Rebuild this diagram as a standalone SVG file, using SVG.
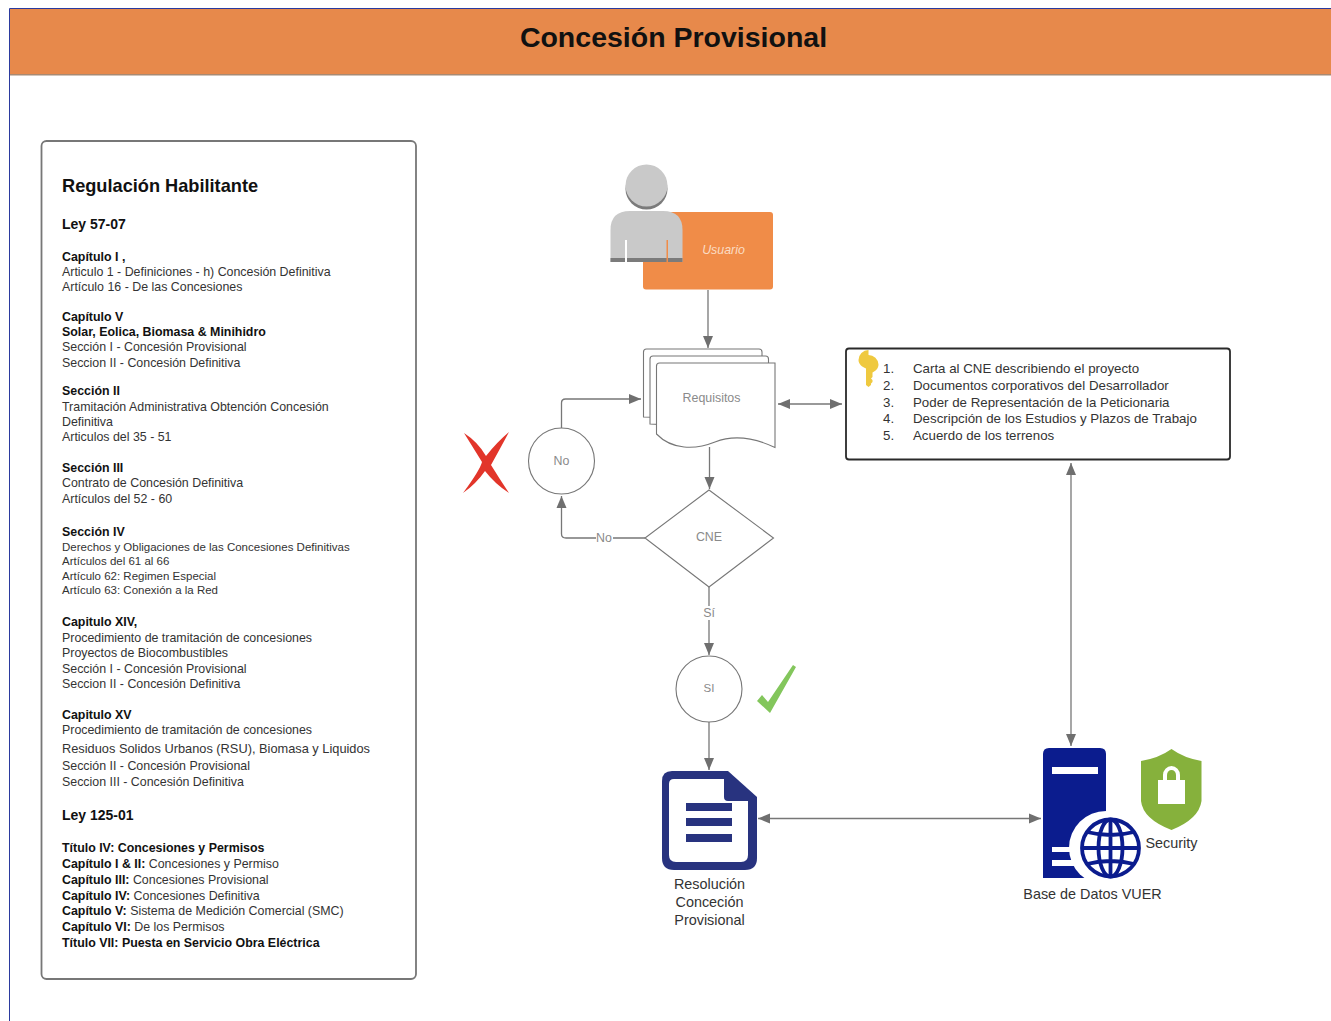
<svg xmlns="http://www.w3.org/2000/svg" width="1331" height="1021" viewBox="0 0 1331 1021">
<style>
text{font-family:"Liberation Sans",Arial,sans-serif}
.r{font-size:12.4px;fill:#333}
.b{font-size:12.4px;font-weight:700;fill:#111}
.h{font-size:14px;font-weight:700;fill:#111}
.l{font-size:13.4px;fill:#222}
.g{font-size:12.4px;fill:#8a8a8a;text-anchor:middle}
.d{font-size:14.4px;fill:#333;text-anchor:middle}
.ln{fill:none;stroke:#777;stroke-width:1.3}
.n{fill:#fff;stroke:#777;stroke-width:1.1}
</style>
<defs>
<marker id="a" markerWidth="13" markerHeight="12" refX="12" refY="6" orient="auto-start-reverse" markerUnits="userSpaceOnUse"><path d="M0 1L12 6L0 11Z" fill="#6f6f6f"/></marker>
</defs>
<rect width="1331" height="1021" fill="#fff"/>
<path d="M9.5 1021V8.5H1331" fill="none" stroke="#2b3a9e" stroke-width="1"/>
<g id="header"><rect x="10" y="9" width="1321" height="66" fill="#e7894b"/><rect x="10" y="74" width="1321" height="1.5" fill="#a98a72"/>
<text x="673.500" y="47" text-anchor="middle" font-size="28.500" font-weight="700" fill="#111">Concesión Provisional</text></g>

<g id="regulacion"><rect x="41.500" y="141" width="374.500" height="838" rx="5" fill="#fff" stroke="#777" stroke-width="1.800"/>
<text x="62" y="192" font-size="18.200" font-weight="700" fill="#111">Regulación Habilitante</text>
<text class="h" x="62" y="229">Ley 57-07</text>
<text class="b" x="62" y="260.500">Capítulo I ,</text>
<text class="r" x="62" y="275.500">Articulo 1 - Definiciones -  h) Concesión Definitiva</text>
<text class="r" x="62" y="291">Artículo 16 - De las Concesiones</text>
<text class="b" x="62" y="321">Capítulo V</text>
<text class="b" x="62" y="336">Solar, Eolica, Biomasa &amp; Minihidro</text>
<text class="r" x="62" y="351">Sección I - Concesión Provisional</text>
<text class="r" x="62" y="366.500">Seccion II - Concesión Definitiva</text>
<text class="b" x="62" y="395">Sección II</text>
<text class="r" x="62" y="410.500">Tramitación Administrativa  Obtención Concesión</text>
<text class="r" x="62" y="426">Definitiva</text>
<text class="r" x="62" y="441">Articulos del 35 - 51</text>
<text class="b" x="62" y="472">Sección III</text>
<text class="r" x="62" y="487">Contrato de Concesión Definitiva</text>
<text class="r" x="62" y="502.500">Artículos del 52 - 60</text>
<text class="b" x="62" y="536">Sección IV</text>
<text class="r" x="62" y="551" font-size="11.500" style="font-size:11.500px">Derechos y Obligaciones de las Concesiones Definitivas</text>
<text class="r" x="62" y="565" style="font-size:11.500px">Artículos del 61 al 66</text>
<text class="r" x="62" y="579.500" style="font-size:11.500px">Artículo 62: Regimen Especial</text>
<text class="r" x="62" y="594" style="font-size:11.500px">Artículo 63: Conexión a la Red</text>
<text class="b" x="62" y="626">Capitulo XIV,</text>
<text class="r" x="62" y="641.500">Procedimiento de tramitación de concesiones</text>
<text class="r" x="62" y="657">Proyectos de Biocombustibles</text>
<text class="r" x="62" y="672.500">Sección I - Concesión Provisional</text>
<text class="r" x="62" y="688">Seccion II - Concesión Definitiva</text>
<text class="b" x="62" y="718.500">Capitulo XV</text>
<text class="r" x="62" y="734">Procedimiento de tramitación de concesiones</text>
<text class="r" x="62" y="752.500" style="font-size:12.800px">Residuos Solidos Urbanos (RSU), Biomasa y Liquidos</text>
<text class="r" x="62" y="770">Sección II - Concesión Provisional</text>
<text class="r" x="62" y="785.500">Seccion III - Concesión Definitiva</text>
<text class="h" x="62" y="820">Ley 125-01</text>
<text class="b" x="62" y="852">Título IV: Concesiones y Permisos</text>
<text class="r" x="62" y="868"><tspan class="b">Capítulo I &amp; II:</tspan> Concesiones y Permiso</text>
<text class="r" x="62" y="884"><tspan class="b">Capítulo III:</tspan> Concesiones Provisional</text>
<text class="r" x="62" y="899.500"><tspan class="b">Capítulo IV:</tspan> Concesiones Definitiva</text>
<text class="r" x="62" y="915"><tspan class="b">Capítulo  V:</tspan> Sistema de Medición Comercial (SMC)</text>
<text class="r" x="62" y="931"><tspan class="b">Capítulo VI:</tspan> De los Permisos</text>
<text class="b" x="62" y="946.500">Título VII: Puesta en Servicio Obra Eléctrica</text></g>

<g id="connectors">
<path class="ln" d="M708 290V348" marker-end="url(#a)"/>
<path class="ln" d="M709.500 447V489" marker-end="url(#a)"/>
<path class="ln" d="M561.500 429V403Q561.500 399 565.500 399H641" marker-end="url(#a)"/>
<path class="ln" d="M645 538H566Q561.500 538 561.500 534V496" marker-end="url(#a)"/>
<path class="ln" d="M709 587V655" marker-end="url(#a)"/>
<path class="ln" d="M709 722V770" marker-end="url(#a)"/>
<path class="ln" d="M778 404H842" marker-start="url(#a)" marker-end="url(#a)"/>
<path class="ln" d="M1071 463V746" marker-start="url(#a)" marker-end="url(#a)"/>
<path class="ln" d="M758 818.500H1041" marker-start="url(#a)" marker-end="url(#a)"/>
<rect x="596" y="531" width="17" height="14" fill="#fff"/>
<text x="604" y="541.500" font-size="12.400" fill="#8a8a8a" text-anchor="middle">No</text>
<rect x="701" y="606" width="16" height="14" fill="#fff"/>
<text x="709" y="617" font-size="12.400" fill="#8a8a8a" text-anchor="middle">Sí</text>
</g>

<g id="usuario"><rect x="643" y="212" width="130" height="77.500" rx="3" fill="#f08c48"/>
<text x="723.500" y="254" font-size="12.400" font-style="italic" fill="#fbdcc4" text-anchor="middle">Usuario</text></g>
<g id="persona">
<ellipse cx="646.500" cy="189" rx="21" ry="20.500" fill="#7b7b7b"/><ellipse cx="646.500" cy="185.500" rx="21" ry="21" fill="#c9c9c9"/>
<path d="M610.500 262V230Q610.500 211 630 211H663Q682.500 211 682.500 230V262Z" fill="#c9c9c9"/>
<rect x="610.500" y="258" width="72" height="4" fill="#7b7b7b"/>
<rect x="625" y="240" width="2" height="22" fill="#fff"/><rect x="666.500" y="240" width="1.500" height="22" fill="#f08c48"/>
</g>

<g id="requisitos">
<path class="n" d="M643.500 417V352Q643.500 349 646.500 349H759Q762 349 762 352V420Z"/>
<path class="n" d="M650 424V359Q650 356 653 356H765.500Q768.500 356 768.500 359V430Z"/>
<path class="n" d="M656.500 434V366Q656.500 363 659.500 363H775V447.500C755 438 735 434 715 442C695 450 672 450 656.500 434Z"/>
<text class="g" x="711.500" y="401.500">Requisitos</text></g>

<g id="lista"><rect x="846" y="348.500" width="384" height="111" rx="3" fill="#fff" stroke="#2a2a2a" stroke-width="1.800"/>
<path d="M868.500 355a10 10 0 0 1 10 9.500c0 3.500-2.500 6.500-6 8v4.500l-1.500 1.500 1.500 1.500v2l-1.500 1.500v1.500l-2.500 2-2.500-2v-16.500c-4-1.500-7.500-4.500-7.500-8.500a10 10 0 0 1 10-10z" fill="#efc93f"/>
<g font-size="13.300" fill="#333">
<text x="883" y="373">1.</text><text x="913" y="373">Carta al CNE describiendo el proyecto</text>
<text x="883" y="390">2.</text><text x="913" y="390">Documentos corporativos del Desarrollador</text>
<text x="883" y="406.500">3.</text><text x="913" y="406.500">Poder de Representación de la Peticionaria</text>
<text x="883" y="423">4.</text><text x="913" y="423">Descripción de los Estudios y Plazos de Trabajo</text>
<text x="883" y="440">5.</text><text x="913" y="440">Acuerdo de los terrenos</text></g></g>

<g id="no"><circle class="n" cx="561.500" cy="461" r="33"/><text class="g" x="561.500" y="465">No</text></g>
<g id="x-mark"><path d="M463 493Q480 470 482 462L464 433Q478 442 486 456Q497 442 509 432Q501 447 491 465Q499 478 509 493Q495 484 485 471Q476 484 463 493Z" fill="#e2352a"/></g>
<g id="cne"><path class="n" d="M709 490L773.500 538L709 587L645 538Z"/><text class="g" x="709" y="540.500">CNE</text></g>
<g id="si"><circle class="n" cx="709" cy="689" r="33"/><text class="g" x="709" y="692" style="font-size:11.500px">SI</text></g>
<g id="check"><path d="M757 701L762 695L768 702L793 665L796 667L770 713Z" fill="#83c65c"/></g>

<g id="resolucion">
<path d="M672 771H728L757 797V858Q757 870 745 870H674Q662 870 662 858V781Q662 771 672 771Z" fill="#28337f"/>
<path d="M674 779H724V797Q724 801 728 801H748V855Q748 862 741 862H676Q669 862 669 855V784Q669 779 674 779Z" fill="#fff"/>
<rect x="686" y="803" width="46" height="8" fill="#28337f"/><rect x="686" y="818" width="46" height="8" fill="#28337f"/><rect x="686" y="834" width="46" height="8" fill="#28337f"/>
<text class="d" x="709.500" y="889">Resolución</text><text class="d" x="709.500" y="907">Conceción</text><text class="d" x="709.500" y="925">Provisional</text></g>

<g id="base-datos">
<path d="M1049 748H1100Q1106 748 1106 754V878H1043V754Q1043 748 1049 748Z" fill="#0b1c8e"/>
<rect x="1052" y="767" width="46" height="7" fill="#fff"/>
<rect x="1052" y="847" width="30" height="5" fill="#fff"/><rect x="1052" y="860" width="30" height="6" fill="#fff"/>
<circle cx="1106" cy="848" r="37" fill="#fff"/>
<g fill="none" stroke="#0b1c8e" stroke-width="3.800"><circle cx="1110.500" cy="848" r="28.500"/><ellipse cx="1110.500" cy="848" rx="12" ry="28.500"/><path d="M1110.500 819.500V876.500M1082 848H1139M1087 832Q1110.500 838 1134 832M1087 864Q1110.500 858 1134 864"/></g>
<text x="1092.500" y="899" font-size="14.400" fill="#333" text-anchor="middle">Base de Datos VUER</text></g>

<g id="security">
<path d="M1171.500 749Q1184 758 1201.500 761V801Q1199 819 1171.500 830Q1143 819 1141 801V761Q1159 758 1171.500 749Z" fill="#86b13c"/>
<path d="M1158 780V804H1185V780H1180V775A8.500 9 0 0 0 1163 775V780Z" fill="#fff"/><path d="M1167 780V775A4.500 5 0 0 1 1176 775V780Z" fill="#86b13c"/>
<text x="1171.500" y="848" font-size="14.400" fill="#333" text-anchor="middle">Security</text></g>
</svg>
